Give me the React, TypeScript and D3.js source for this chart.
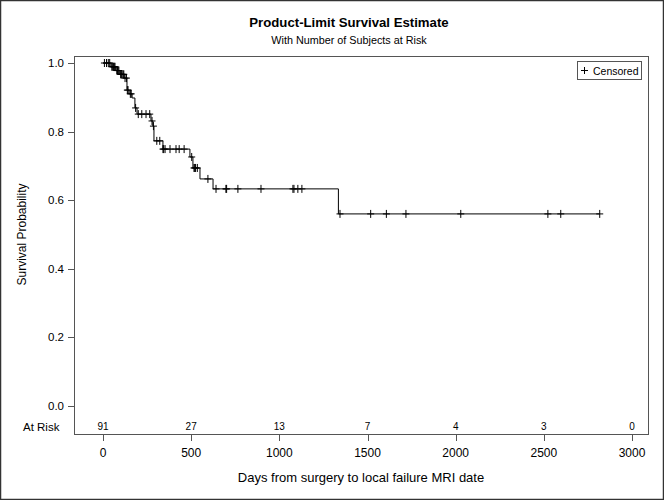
import React from 'react';
import * as d3 from 'd3';

// Kaplan-Meier step function (time in days, survival probability)
const stepTimes = [0, 45, 70, 95, 120, 136, 148, 165, 181, 193, 272, 283, 289, 340, 493, 510, 550, 624, 1335];
const stepSurv = [1.0, 0.989, 0.978, 0.967, 0.956, 0.921, 0.91, 0.898, 0.869, 0.851, 0.831, 0.816, 0.773, 0.749, 0.726, 0.694, 0.662, 0.633, 0.56];
const endTime = 2817;

// Censored observation times
const censorTimes = [
  8, 20, 30, 38, 50, 55, 60, 64, 68, 78, 82, 86, 90, 100, 104, 108, 114, 118, 125, 133,
  138, 142, 155, 160, 185, 200, 220, 244, 265, 278, 286, 305, 322, 340, 344, 352, 380,
  414, 432, 460, 503, 516, 520, 525, 535, 595, 641, 697, 701, 765, 896, 1077, 1083,
  1105, 1128, 1344, 1518, 1607, 1718, 2029, 2523, 2596, 2817,
];

const riskTimes = [0, 500, 1000, 1500, 2000, 2500, 3000];
const riskCounts = [91, 27, 13, 7, 4, 3, 0];
const xTicks = [0, 500, 1000, 1500, 2000, 2500, 3000];
const yTicks = [0, 0.2, 0.4, 0.6, 0.8, 1.0];

const FONT = "'Liberation Sans', Arial, sans-serif";

export default function App() {
  const W = 664;
  const H = 500;
  const frame = { l: 74, r: 648, t: 56, b: 434 };
  const x = d3.scaleLinear().domain([0, 3000]).range([103, 632]);
  const y = d3.scaleLinear().domain([0, 1]).range([406, 63]);

  const pts: [number, number][] = stepTimes.map((t, i) => [t, stepSurv[i]] as [number, number]);
  pts.push([endTime, stepSurv[stepSurv.length - 1]]);
  const line = d3
    .line<[number, number]>()
    .x((d) => x(d[0]))
    .y((d) => y(d[1]))
    .curve(d3.curveStepAfter);

  const survAt = (t: number) => {
    let s = 1;
    for (let i = 0; i < stepTimes.length; i++) if (stepTimes[i] <= t) s = stepSurv[i];
    return s;
  };

  const cx = (frame.l + frame.r) / 2;
  const titleX = 349;

  return (
    <svg
      width={W}
      height={H}
      style={{ position: 'absolute', left: 0, top: 0, background: '#fff' }}
      fontFamily={FONT}
    >
      <rect x={0.5} y={0.5} width={W - 1} height={H - 1} fill="#fff" stroke="#333" strokeWidth={1.5} />

      <text x={titleX} y={27} textAnchor="middle" fontSize={13.2} fontWeight="bold" fill="#000">
        Product-Limit Survival Estimate
      </text>
      <text x={titleX} y={44} textAnchor="middle" fontSize={10.8} fill="#000">
        With Number of Subjects at Risk
      </text>

      <rect
        x={frame.l + 0.5}
        y={frame.t + 0.5}
        width={frame.r - frame.l}
        height={frame.b - frame.t}
        fill="none"
        stroke="#555"
        strokeWidth={1}
      />

      {/* Y axis */}
      {yTicks.map((v) => (
        <g key={v}>
          <line x1={frame.l - 6} x2={frame.l} y1={Math.round(y(v)) + 0.5} y2={Math.round(y(v)) + 0.5} stroke="#555" />
          <text x={frame.l - 10} y={y(v) + 4} textAnchor="end" fontSize={11.5} fill="#000">
            {v.toFixed(1)}
          </text>
        </g>
      ))}
      <text
        transform={`translate(26, ${(y(0) + y(1)) / 2}) rotate(-90)`}
        textAnchor="middle"
        fontSize={12}
        fill="#000"
      >
        Survival Probability
      </text>

      {/* X axis */}
      {xTicks.map((v) => (
        <g key={v}>
          <line x1={Math.round(x(v)) + 0.5} x2={Math.round(x(v)) + 0.5} y1={frame.b + 1} y2={frame.b + 7} stroke="#555" />
          <text x={x(v)} y={frame.b + 23} textAnchor="middle" fontSize={12} fill="#000">
            {v}
          </text>
        </g>
      ))}
      <text x={cx} y={482} textAnchor="middle" fontSize={13} fill="#000">
        Days from surgery to local failure MRI date
      </text>

      {/* At risk row */}
      <text x={23} y={431} textAnchor="start" fontSize={11.5} fill="#000">
        At Risk
      </text>
      {riskTimes.map((t, i) => (
        <text key={t} x={x(t)} y={430} textAnchor="middle" fontSize={10} fill="#000">
          {riskCounts[i]}
        </text>
      ))}

      {/* Survival curve */}
      <path d={line(pts) || ''} fill="none" stroke="#000" strokeWidth={1} />

      {/* Censor marks */}
      {censorTimes.map((t, i) => {
        const px = x(t);
        const py = y(survAt(t));
        return (
          <g key={i} stroke="#000" strokeWidth={1}>
            <line x1={px - 3.5} x2={px + 3.5} y1={py} y2={py} />
            <line x1={px} x2={px} y1={py - 4} y2={py + 4} />
          </g>
        );
      })}

      {/* Legend */}
      <rect x={577.5} y={61.5} width={64} height={18} fill="#fff" stroke="#555" />
      <g stroke="#000" strokeWidth={1}>
        <line x1={581} x2={588} y1={70.5} y2={70.5} />
        <line x1={584.5} x2={584.5} y1={67} y2={74} />
      </g>
      <text x={593} y={74.5} fontSize={10.5} fill="#000">
        Censored
      </text>
    </svg>
  );
}
